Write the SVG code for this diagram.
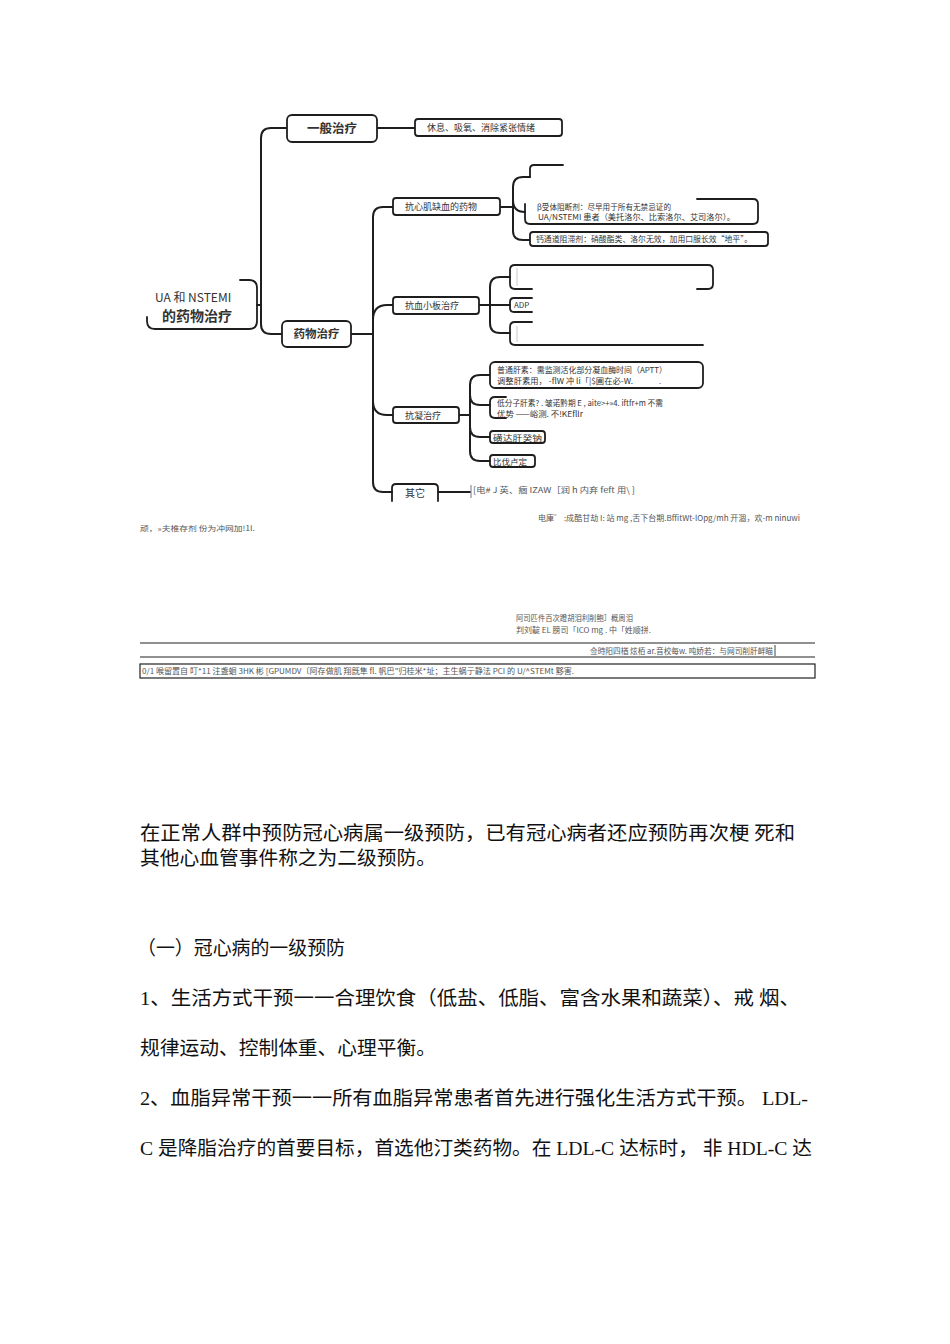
<svg xmlns="http://www.w3.org/2000/svg" width="950" height="1344" viewBox="0 0 950 1344">
<style>
.ln{fill:none;stroke:#1e1e1e;stroke-width:2;stroke-linecap:round;stroke-linejoin:round}
.bx{fill:#fff;stroke:#1e1e1e;stroke-width:1.8}
.bo{fill:none;stroke:#1e1e1e;stroke-width:1.8;stroke-linecap:round}
.fa{fill:none;stroke:#c8c8c8;stroke-width:1}
.t{font-family:"Noto Sans CJK SC","Liberation Sans",sans-serif;fill:#333}
.s{font-family:"Noto Sans CJK SC","Liberation Sans",sans-serif;fill:#555}
.p{font-family:"Liberation Serif","Noto Sans CJK SC",serif;fill:#111;font-size:19.5px}
.rule{stroke:#222;stroke-width:1.2}
</style>
<rect width="950" height="1344" fill="#fff"/>

<g id="connectors">
<path class="ln" d="M257,305 H261"/>
<path class="ln" d="M287,128 H271 Q261,128 261,138 V324 Q261,334 271,334 H282"/>
<path class="ln" d="M377,128 H415"/>
<path class="ln" d="M351,334 H373"/>
<path class="ln" d="M393,207 H383 Q373,207 373,217 V482 Q373,492 383,492 H392"/>
<path class="ln" d="M373,320 Q373,305 387,305 H393"/>
<path class="ln" d="M373,401 Q373,415 387,415 H393"/>
<path class="ln" d="M500,207 H513"/>
<path class="ln" d="M530,177 H523 Q513,177 513,187 V231 Q513,240 523,240 H530"/>
<path class="ln" d="M513,200 Q513,212 525,212"/>
<path class="ln" d="M479,305 H510"/>
<path class="ln" d="M510,277 H500 Q490,277 490,287 V323 Q490,333 500,333 H510"/>
<path class="ln" d="M459,415 H470"/>
<path class="ln" d="M490,375 H480 Q470,375 470,385 V451 Q470,461 480,461 H490"/>
<path class="ln" d="M470,395 Q470,405 480,405 H490"/>
<path class="ln" d="M470,427 Q470,437 480,437 H490"/>
<path class="ln" d="M438,492 H470"/>
</g>

<g id="root">
<path class="bo" d="M240,280 H249 Q257,280 257,288 V321 Q257,329 249,329 H155 Q147,329 147,321 V317"/>
<text class="t" x="155" y="302" font-size="12" fill="#333">UA 和  NSTEMI</text>
<text class="t" x="162" y="321" font-size="14" font-weight="bold">的药物治疗</text>
</g>

<g id="n-general">
<rect class="bx" x="287" y="115" width="90" height="27" rx="5"/>
<text class="t" x="332" y="132.5" font-size="12.5" font-weight="bold" text-anchor="middle">一般治疗</text>
</g>
<g id="n-rest">
<rect class="bx" x="415" y="119" width="147" height="17" rx="3"/>
<text class="t" x="427" y="130.5" font-size="9">休息、吸氧、消除紧张情绪</text>
</g>

<g id="n-drug">
<rect class="bx" x="282" y="321" width="69" height="26" rx="5"/>
<text class="t" x="316.5" y="338" font-size="11.5" font-weight="bold" text-anchor="middle">药物治疗</text>
</g>

<g id="n-ischemia">
<rect class="bx" x="393" y="198" width="107" height="17" rx="3"/>
<text class="t" x="405" y="210" font-size="9">抗心肌缺血的药物</text>
</g>
<g id="n-nitrate">
<path class="bo" d="M530,177 V169 Q530,165 534,165 H563"/>
</g>
<g id="n-beta">
<path class="bo" d="M697,199 H753 Q758,199 758,204 V219 Q758,224 753,224 H530 Q525,224 525,219 V204"/>
<text class="t" x="537" y="210" font-size="8" textLength="134" lengthAdjust="spacingAndGlyphs">β受体阻断剂：尽早用于所有无禁忌证的</text>
<text class="t" x="538" y="220" font-size="8" textLength="197" lengthAdjust="spacingAndGlyphs">UA/NSTEMI  患者（美托洛尔、比索洛尔、艾司洛尔）。</text>
</g>
<g id="n-ccb">
<rect class="bx" x="530" y="232" width="238" height="14" rx="3"/>
<text class="t" x="536" y="242" font-size="8.2" textLength="216" lengthAdjust="spacingAndGlyphs">钙通道阻滞剂：硝酸酯类、洛尔无效，加用口服长效“地平”。</text>
</g>

<g id="n-antiplatelet">
<rect class="bx" x="393" y="297" width="86" height="17" rx="3"/>
<text class="t" x="405" y="308.5" font-size="9">抗血小板治疗</text>
</g>
<g id="n-ap1">
<path class="bo" d="M532,289 H515 Q510,289 510,284 V270 Q510,265 515,265 H708 Q713,265 713,270 V284 Q713,289 708,289 H697"/>
<path class="fa" d="M517,268 V286"/>
</g>
<g id="n-adp">
<path class="bo" d="M532,298 H514 Q510,298 510,302 V308 Q510,312 514,312 H532"/>
<text class="t" x="514" y="308" font-size="8">ADP</text>
</g>
<g id="n-ap3">
<path class="bo" d="M532,322 H515 Q510,322 510,327 V340 Q510,345 515,345 H703"/>
<path class="fa" d="M517,326 V342"/>
</g>

<g id="n-anticoag">
<rect class="bx" x="393" y="407" width="66" height="16" rx="3"/>
<text class="t" x="405" y="418.5" font-size="9">抗凝治疗</text>
</g>
<g id="n-heparin">
<rect class="bx" x="490" y="362" width="213" height="26" rx="5"/>
<text class="t" x="497" y="373" font-size="8" textLength="170" lengthAdjust="spacingAndGlyphs">普通肝素：需监测活化部分凝血酶时间（APTT）</text>
<text class="t" x="497" y="384" font-size="8" textLength="136" lengthAdjust="spacingAndGlyphs">调整肝素用，  -flW 冲 li「|$圃在必-W.</text>
<text class="s" x="659" y="384" font-size="8">.</text>
</g>
<g id="n-lmwh">
<path class="bo" d="M506,397 H495 Q490,397 490,402 V413 Q490,418 495,418 H506"/>
<text class="t" x="497" y="406" font-size="8" textLength="166" lengthAdjust="spacingAndGlyphs">低分子肝素? . 皱诺黔期 E , aite&gt;+»4. iftfr+m 不需</text>
<text class="t" x="497" y="417" font-size="8" textLength="86" lengthAdjust="spacingAndGlyphs">优势 ——峪测. 不!KEfllr</text>
</g>
<g id="n-fonda">
<rect class="bx" x="490" y="431" width="55" height="12" rx="3"/>
<text class="t" x="493" y="440.5" font-size="8.5" textLength="49" lengthAdjust="spacingAndGlyphs">磺达肝癸钠</text>
</g>
<g id="n-bival">
<rect class="bx" x="490" y="455" width="45" height="12" rx="3"/>
<text class="t" x="493" y="464.5" font-size="8.5">比伐卢定</text>
</g>

<g id="n-other">
<path class="bo" d="M392,501 V488 Q392,484 396,484 H434 Q438,484 438,488 V501"/>
<text class="t" x="415" y="496.5" font-size="10" text-anchor="middle">其它</text>
</g>
<g id="n-other-text">
<path class="fa" d="M471,485 V498" style="stroke:#777"/>
<text class="s" x="473" y="493" font-size="8" textLength="162" lengthAdjust="spacingAndGlyphs">[电# J 英、痼 IZAW［润 h 内弃 feft 用\      ]</text>
</g>

<g id="notes">
<text class="s" x="538" y="521" font-size="8" textLength="262" lengthAdjust="spacingAndGlyphs">电庫゛ :成酷甘劫 I:  站 mg ,舌下台期.BffitWt-lOpg/mh 开涸，欢-m ninuwi</text>
<text class="s" x="140" y="531" font-size="7" textLength="115" lengthAdjust="spacingAndGlyphs" fill="#777">顽，»夫椎存剂 份为冲网加!1l.</text>
<text class="s" x="516" y="621" font-size="7.5" textLength="117" lengthAdjust="spacingAndGlyphs">阿司匹件百次蹬胡泪利削鲍］概周泪</text>
<text class="s" x="516" y="633" font-size="7.5" textLength="135" lengthAdjust="spacingAndGlyphs">判刘靛 EL 膀司「lCO mg . 中「姓顺拼.</text>
<line class="rule" x1="140" y1="643" x2="815" y2="643"/>
<line class="rule" x1="140" y1="657" x2="815" y2="657"/>
<text class="s" x="590" y="654" font-size="7.5" textLength="183" lengthAdjust="spacingAndGlyphs">佥時阳四楢  炫栢 ar.音校每w.   吨娇若：与网司削肝衅瞄</text>
<line x1="775" y1="645" x2="775" y2="656" stroke="#444" stroke-width="1"/>
<rect x="140" y="664" width="675" height="14" fill="none" stroke="#222" stroke-width="1.2"/>
<text class="s" x="142" y="674" font-size="7.5" textLength="432" lengthAdjust="spacingAndGlyphs">0/1 喉留置自 叮*11 注盏蛔 3HK 彬 [GPUMDV〔阿存做肌 翔旣隼 fl. 帆巴"归桂米*址；主生蜗亍静法 PCI 的 U/^STEMt 黟害.</text>
</g>

<g id="body-text">
<text class="p" x="140" y="840" textLength="655" lengthAdjust="spacingAndGlyphs">在正常人群中预防冠心病属一级预防，已有冠心病者还应预防再次梗 死和</text>
<text class="p" x="140" y="865" textLength="296" lengthAdjust="spacingAndGlyphs">其他心血管事件称之为二级预防。</text>
<text class="p" x="137" y="955" textLength="208" lengthAdjust="spacingAndGlyphs">（一）冠心病的一级预防</text>
<text class="p" x="140" y="1005" textLength="660" lengthAdjust="spacingAndGlyphs">1、生活方式干预一一合理饮食（低盐、低脂、富含水果和蔬菜）、戒 烟、</text>
<text class="p" x="140" y="1055" textLength="296" lengthAdjust="spacingAndGlyphs">规律运动、控制体重、心理平衡。</text>
<text class="p" x="140" y="1105" textLength="668" lengthAdjust="spacingAndGlyphs">2、血脂异常干预一一所有血脂异常患者首先进行强化生活方式干预。 LDL-</text>
<text class="p" x="140" y="1155" textLength="672" lengthAdjust="spacingAndGlyphs">C 是降脂治疗的首要目标，首选他汀类药物。在 LDL-C 达标时， 非 HDL-C 达</text>
</g>
</svg>
